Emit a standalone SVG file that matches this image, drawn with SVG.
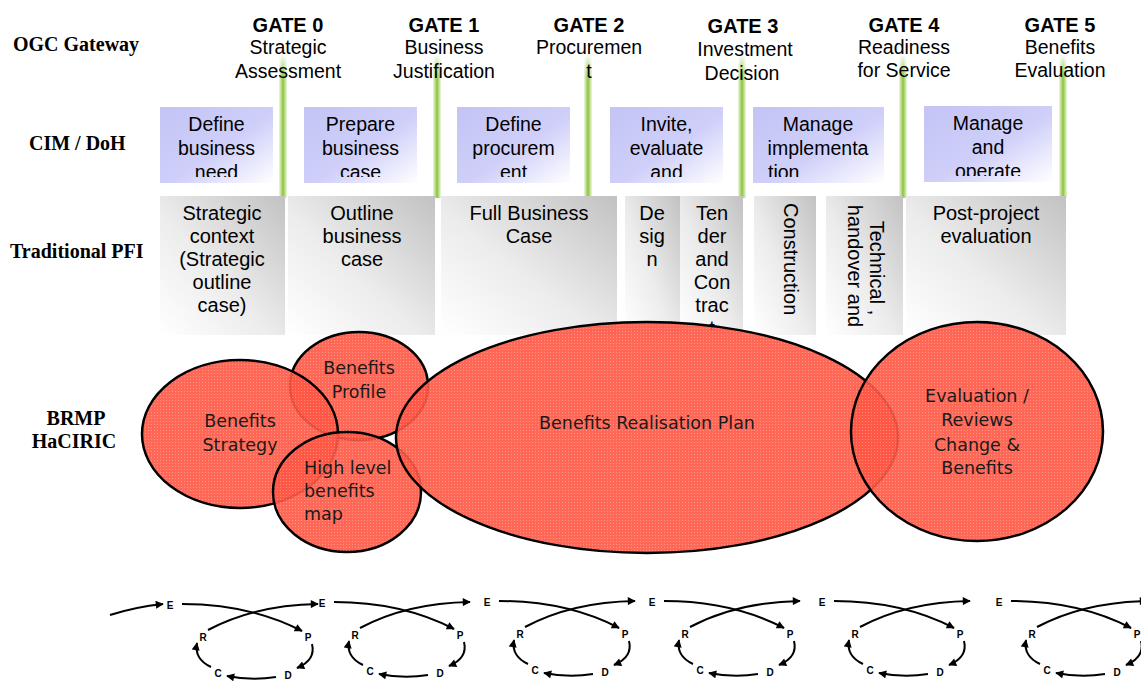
<svg xmlns="http://www.w3.org/2000/svg" xmlns:xlink="http://www.w3.org/1999/xlink" width="1141" height="682" viewBox="0 0 1141 682">
<style>
.lbl{font-family:"Liberation Serif","Times New Roman",serif;font-weight:bold;font-size:20px;fill:#000}
.gh{font-family:"Liberation Sans",Arial,sans-serif;font-weight:bold;font-size:20px;text-anchor:middle;fill:#000}
.gt{font-family:"Liberation Sans",Arial,sans-serif;font-size:19.5px;text-anchor:middle;fill:#000}
.ct{font-family:"Liberation Sans",Arial,sans-serif;font-size:19.5px;text-anchor:middle;fill:#000}
.pt{font-family:"Liberation Sans",Arial,sans-serif;font-size:20px;text-anchor:middle;fill:#000}
.et{font-family:"DejaVu Sans",Verdana,sans-serif;font-size:17.5px;fill:#1a1a1a}
.etm{text-anchor:middle}
.ell{fill:url(#dots);fill-opacity:0.9;stroke:#000;stroke-width:2.5}
.cim{fill:url(#cim)}
.pfi{fill:url(#pfi)}
.gl{fill:url(#green)}
.cy{fill:none;stroke:#000;stroke-width:2;marker-end:url(#ah)}
.cl{font-family:"Liberation Sans",Arial,sans-serif;font-weight:bold;font-size:10px;text-anchor:middle;fill:#000}
.st{text-anchor:start}
</style>
<defs>
<linearGradient id="green" x1="0" y1="0" x2="1" y2="0"><stop offset="0" stop-color="#eef7e2"/><stop offset="0.5" stop-color="#8cc43c"/><stop offset="1" stop-color="#eef7e2"/></linearGradient>
<linearGradient id="fadeTop" x1="0" y1="0" x2="0" y2="1"><stop offset="0" stop-color="#fff" stop-opacity="1"/><stop offset="1" stop-color="#fff" stop-opacity="0"/></linearGradient>
<linearGradient id="cim" x1="0" y1="0" x2="1" y2="1"><stop offset="0" stop-color="#c4c4f5"/><stop offset="0.55" stop-color="#cfcffa"/><stop offset="1" stop-color="#ffffff"/></linearGradient>
<linearGradient id="pfi" x1="0" y1="1" x2="1" y2="0"><stop offset="0" stop-color="#ffffff"/><stop offset="0.45" stop-color="#ececec"/><stop offset="1" stop-color="#c2c2c2"/></linearGradient>
<pattern id="dots" width="3" height="3" patternUnits="userSpaceOnUse"><rect width="3" height="3" fill="#ff5645"/><rect x="1" y="1" width="1" height="1" fill="#ff8878"/></pattern>
<marker id="ah" viewBox="0 0 10 10" refX="9" refY="5" markerWidth="9" markerHeight="8" markerUnits="userSpaceOnUse" orient="auto"><path d="M0,0 L10,5 L0,10 z" fill="#000"/></marker>
<clipPath id="c1"><rect x="160" y="107" width="113" height="70"/></clipPath>
<clipPath id="c2"><rect x="304" y="107" width="113" height="70"/></clipPath>
<clipPath id="c3"><rect x="457" y="107" width="113" height="70"/></clipPath>
<clipPath id="c4"><rect x="610" y="107" width="113" height="70"/></clipPath>
<clipPath id="c5"><rect x="753" y="107" width="131" height="70"/></clipPath>
<clipPath id="c6"><rect x="924" y="106" width="128" height="70"/></clipPath>
<clipPath id="p5"><rect x="680" y="196" width="63" height="134"/></clipPath>
<clipPath id="p7"><rect x="826" y="196" width="77" height="139"/></clipPath>
<g id="cyc">
<path class="cy" d="M12,-1 Q80,-1 132,26"/>
<path class="cy" d="M38,25 Q85,0 148,-1"/>
<path class="cy" d="M142,39 Q146,55 127,63"/>
<path class="cy" d="M106,72 Q82,76 57,71"/>
<path class="cy" d="M41,62 Q24,54 27,38"/>
<text class="cl" x="0" y="4">E</text>
<text class="cl" x="33" y="36">R</text>
<text class="cl" x="138" y="36">P</text>
<text class="cl" x="118" y="74">D</text>
<text class="cl" x="48" y="72">C</text>
</g>
</defs>
<rect width="1141" height="682" fill="#fff"/>

<g id="row-labels">
<text class="lbl" x="13" y="51">OGC Gateway</text>
<text class="lbl" x="29" y="150">CIM / DoH</text>
<text class="lbl" x="10" y="258">Traditional PFI</text>
<text class="lbl" x="76" y="425" text-anchor="middle">BRMP</text>
<text class="lbl" x="74" y="448" text-anchor="middle">HaCIRIC</text>
</g>

<g id="gate-lines">
<rect class="gl" x="279" y="55" width="8" height="143"/>
<rect class="gl" x="433" y="55" width="8" height="143"/>
<rect class="gl" x="584" y="55" width="8" height="143"/>
<rect class="gl" x="738" y="55" width="8" height="143"/>
<rect class="gl" x="899" y="55" width="8" height="143"/>
<rect class="gl" x="1059" y="55" width="8" height="143"/>
<rect x="270" y="54" width="800" height="22" fill="url(#fadeTop)"/>
</g>

<g id="gate0"><text class="gh" x="288" y="32">GATE 0</text><text class="gt" x="288" y="54">Strategic</text><text class="gt" x="288" y="78">Assessment</text></g>
<g id="gate1"><text class="gh" x="444" y="32">GATE 1</text><text class="gt" x="444" y="54">Business</text><text class="gt" x="444" y="78">Justification</text></g>
<g id="gate2"><text class="gh" x="589" y="32">GATE 2</text><text class="gt" x="589" y="54">Procuremen</text><text class="gt" x="589" y="78">t</text></g>
<g id="gate3"><text class="gh" x="743" y="33">GATE 3</text><text class="gt" x="745" y="56">Investment</text><text class="gt" x="742" y="80">Decision</text></g>
<g id="gate4"><text class="gh" x="904" y="32">GATE 4</text><text class="gt" x="904" y="54">Readiness</text><text class="gt" x="904" y="77">for Service</text></g>
<g id="gate5"><text class="gh" x="1060" y="32">GATE 5</text><text class="gt" x="1060" y="54">Benefits</text><text class="gt" x="1060" y="77">Evaluation</text></g>

<g id="cim-define-need"><rect class="cim" x="160" y="107" width="113" height="76"/><g clip-path="url(#c1)"><text class="ct" x="216.5" y="131">Define</text><text class="ct" x="216.5" y="155">business</text><text class="ct" x="216.5" y="179">need</text></g></g>
<g id="cim-prepare-case"><rect class="cim" x="304" y="107" width="113" height="76"/><g clip-path="url(#c2)"><text class="ct" x="360.5" y="131">Prepare</text><text class="ct" x="360.5" y="155">business</text><text class="ct" x="360.5" y="179">case</text></g></g>
<g id="cim-define-procurement"><rect class="cim" x="457" y="107" width="113" height="76"/><g clip-path="url(#c3)"><text class="ct" x="513.5" y="131">Define</text><text class="ct" x="513.5" y="155">procurem</text><text class="ct" x="513.5" y="179">ent</text></g></g>
<g id="cim-invite"><rect class="cim" x="610" y="107" width="113" height="76"/><g clip-path="url(#c4)"><text class="ct" x="666.5" y="131">Invite,</text><text class="ct" x="666.5" y="155">evaluate</text><text class="ct" x="666.5" y="179">and</text></g></g>
<g id="cim-manage-impl"><rect class="cim" x="753" y="107" width="131" height="76"/><g clip-path="url(#c5)"><text class="ct" x="818" y="131">Manage</text><text class="ct" x="818" y="155">implementa</text><text class="ct st" x="768" y="179">tion</text></g></g>
<g id="cim-manage-operate"><rect class="cim" x="924" y="106" width="128" height="76"/><g clip-path="url(#c6)"><text class="ct" x="988" y="130">Manage</text><text class="ct" x="988" y="154">and</text><text class="ct" x="988" y="178">operate</text></g></g>

<g id="pfi-strategic"><rect class="pfi" x="160" y="196" width="125" height="139"/><text class="pt" x="222" y="220">Strategic</text><text class="pt" x="222" y="243">context</text><text class="pt" x="222" y="266">(Strategic</text><text class="pt" x="222" y="289">outline</text><text class="pt" x="222" y="312">case)</text></g>
<g id="pfi-outline"><rect class="pfi" x="288" y="196" width="147" height="139"/><text class="pt" x="362" y="220">Outline</text><text class="pt" x="362" y="243">business</text><text class="pt" x="362" y="266">case</text></g>
<g id="pfi-full"><rect class="pfi" x="441" y="196" width="176" height="139"/><text class="pt" x="529" y="220">Full Business</text><text class="pt" x="529" y="243">Case</text></g>
<g id="pfi-design"><rect class="pfi" x="625" y="196" width="55" height="139"/><text class="pt" x="652" y="220">De</text><text class="pt" x="652" y="243">sig</text><text class="pt" x="652" y="266">n</text></g>
<g id="pfi-tender"><rect class="pfi" x="680" y="196" width="63" height="139"/><g clip-path="url(#p5)"><text class="pt" x="712" y="220">Ten</text><text class="pt" x="712" y="243">der</text><text class="pt" x="712" y="266">and</text><text class="pt" x="712" y="289">Con</text><text class="pt" x="712" y="312">trac</text><text class="pt" x="712" y="335">t</text></g></g>
<g id="pfi-construction"><rect class="pfi" x="754" y="196" width="62" height="139"/><text class="pt st" transform="translate(784,203) rotate(90)">Construction</text></g>
<g id="pfi-technical"><rect class="pfi" x="826" y="196" width="77" height="139"/><g clip-path="url(#p7)"><text class="pt" transform="translate(870,268) rotate(90)">Technical ,</text><text class="pt" transform="translate(848,266) rotate(90)">handover and</text></g></g>
<g id="pfi-post"><rect class="pfi" x="906" y="196" width="160" height="139"/><text class="pt" x="986" y="220">Post-project</text><text class="pt" x="986" y="243">evaluation</text></g>

<g id="brmp-profile"><ellipse class="ell" cx="359" cy="386" rx="69" ry="54"/></g>
<g id="brmp-strategy"><ellipse class="ell" cx="240" cy="434" rx="98" ry="74"/></g>
<g id="brmp-map"><ellipse class="ell" cx="347" cy="492" rx="74" ry="60"/></g>
<g id="brmp-plan"><ellipse class="ell" cx="647" cy="437.5" rx="251" ry="115.5"/></g>
<g id="brmp-evaluation"><ellipse class="ell" cx="977" cy="431.5" rx="126" ry="109.5"/></g>
<g id="brmp-texts">
<text class="et etm" x="359" y="374">Benefits</text><text class="et etm" x="359" y="398">Profile</text>
<text class="et etm" x="240" y="427">Benefits</text><text class="et etm" x="240" y="451">Strategy</text>
<text class="et" x="304" y="474">High level</text><text class="et" x="304" y="497">benefits</text><text class="et" x="304" y="520">map</text>
<text class="et etm" x="647" y="429">Benefits Realisation Plan</text>
<text class="et etm" x="977" y="402">Evaluation /</text><text class="et etm" x="977" y="426">Reviews</text><text class="et etm" x="977" y="451">Change &amp;</text><text class="et etm" x="977" y="474">Benefits</text>
</g>

<g id="connectors">
<path class="cy" d="M110,615 Q135,607 163,604"/>
<use xlink:href="#cyc" href="#cyc" x="170" y="605"/>
<use xlink:href="#cyc" href="#cyc" x="322" y="603"/>
<use xlink:href="#cyc" href="#cyc" x="487" y="602"/>
<use xlink:href="#cyc" href="#cyc" x="652" y="602"/>
<use xlink:href="#cyc" href="#cyc" x="822" y="602"/>
<use xlink:href="#cyc" href="#cyc" x="999" y="602"/>
</g>
</svg>
